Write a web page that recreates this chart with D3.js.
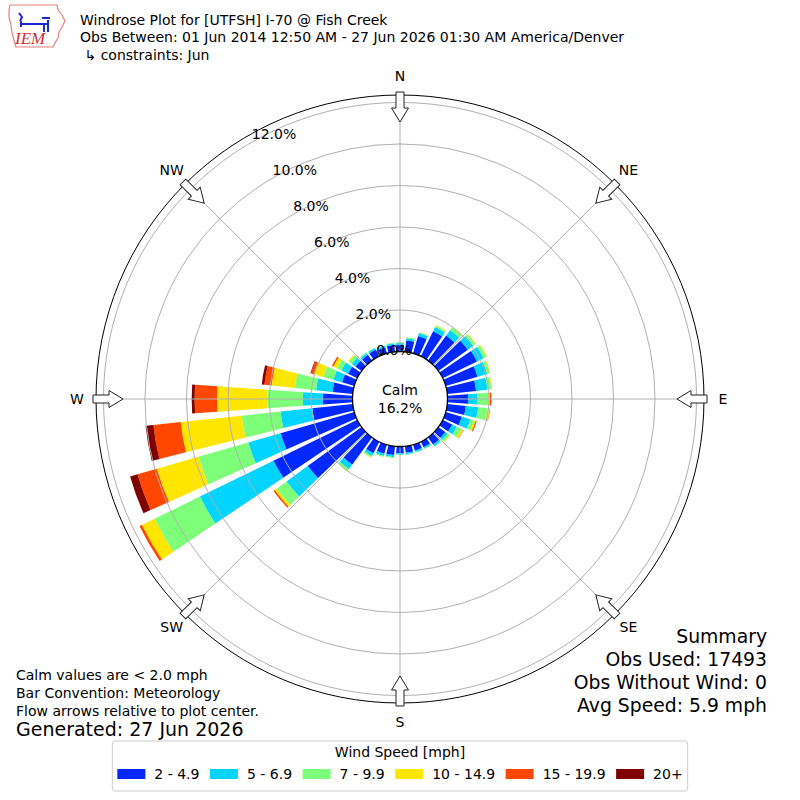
<!DOCTYPE html>
<html>
<head>
<meta charset="utf-8">
<script src="https://cdn.jsdelivr.net/npm/d3@7"></script>
<style>
  body { margin: 0; background: #fff; }
  svg text { font-family: "DejaVu Sans", sans-serif; fill: #000; }
</style>
</head>
<body>
<div id="chart"></div>
<script>
const directions = [0, 10, 20, 30, 40, 50, 60, 70, 80, 90, 100, 110, 120, 130, 140, 150, 160, 170,
                    180, 190, 200, 210, 220, 230, 240, 250, 260, 270, 280, 290, 300, 310, 320, 330, 340, 350];
const speedBins = ["2 - 4.9", "5 - 6.9", "7 - 9.9", "10 - 14.9", "15 - 19.9", "20+"];

const spd2to5   = [0.32, 0.55, 0.87, 1.35, 1.50, 1.75, 1.84, 1.60, 1.40, 1.00, 0.90, 0.81, 0.51, 0.41, 0.42, 0.30, 0.30, 0.32,
                   0.32, 0.43, 0.45, 0.62, 1.63, 3.21, 4.50, 3.70, 1.96, 1.43, 0.98, 0.62, 0.50, 0.36, 0.35, 0.36, 0.30, 0.33];
const spd5to7   = [0.09, 0.10, 0.15, 0.22, 0.32, 0.33, 0.36, 0.48, 0.55, 0.45, 0.60, 0.43, 0.25, 0.14, 0.10, 0.07, 0.07, 0.07,
                   0.07, 0.10, 0.12, 0.15, 0.27, 1.26, 3.94, 1.62, 1.54, 0.96, 0.80, 0.43, 0.35, 0.22, 0.10, 0.08, 0.08, 0.08];
const spd7to10  = [0.04, 0.05, 0.04, 0.08, 0.17, 0.13, 0.14, 0.14, 0.20, 0.52, 0.46, 0.18, 0.25, 0.12, 0.04, 0.03, 0.03, 0.03,
                   0.03, 0.05, 0.05, 0.07, 0.12, 0.59, 2.44, 2.50, 1.88, 1.72, 1.03, 0.51, 0.25, 0.17, 0.04, 0.03, 0.03, 0.03];
const spd10to15 = [0, 0, 0.01, 0.03, 0.03, 0.03, 0.04, 0.03, 0.03, 0.07, 0.10, 0.08, 0.09, 0.03, 0, 0, 0, 0,
                   0, 0, 0, 0.02, 0.02, 0.12, 0.67, 2.08, 2.96, 2.42, 1.12, 0.47, 0.18, 0.05, 0, 0, 0, 0];
const spd15to20 = [0, 0, 0, 0, 0, 0, 0, 0, 0, 0.08, 0.02, 0.06, 0.02, 0, 0, 0, 0, 0,
                   0, 0, 0, 0, 0, 0.07, 0.13, 0.97, 1.32, 1.08, 0.35, 0.14, 0.08, 0, 0, 0, 0, 0];
const spd20up   = [0, 0, 0, 0, 0, 0, 0, 0, 0, 0, 0, 0, 0, 0, 0, 0, 0, 0,
                   0, 0, 0, 0, 0, 0, 0, 0.37, 0.38, 0.14, 0.13, 0.03, 0, 0, 0, 0, 0, 0];

const ringTicks = [0, 2, 4, 6, 8, 10, 12];
const compassLabels = ["N", "NE", "E", "SE", "S", "SW", "W", "NW"];
const calmPct = 16.2;

const titleLines = [
    "Windrose Plot for [UTFSH] I-70 @ Fish Creek",
    "Obs Between: 01 Jun 2014 12:50 AM - 27 Jun 2026 01:30 AM America/Denver",
    " \u21b3 constraints: Jun"
];
const noteLines = ["Calm values are < 2.0 mph", "Bar Convention: Meteorology", "Flow arrows relative to plot center."];
const generatedText = "Generated: 27 Jun 2026";
const summaryLines = ["Summary", "Obs Used: 17493", "Obs Without Wind: 0", "Avg Speed: 5.9 mph"];

// jet colormap samples
const binColors = ["#0028ff", "#00d4ff", "#7dff7a", "#ffe600", "#ff4700", "#800000"];

// ---- layout ----
const width = 800, height = 800;
const cx = 400, cy = 399;
const rCalm = 47.5, rOuter = 304;
const rad = deg => deg * Math.PI / 180;

const svg = d3.select("#chart")
    .append("svg")
    .attr("width", width)
    .attr("height", height);

const color = d3.scaleOrdinal().domain(speedBins).range(binColors);
const r = d3.scaleLinear().domain([0, 12.36]).range([rCalm, rOuter]);

// stack the speed bins per direction
const speedSeries = [spd2to5, spd5to7, spd7to10, spd10to15, spd15to20, spd20up];
const table = directions.map((dir, i) => {
    const row = { dir };
    speedSeries.forEach((s, j) => { row[speedBins[j]] = s[i]; });
    return row;
});
const stacked = d3.stack().keys(speedBins)(table);

const plot = svg.append("g").attr("transform", `translate(${cx},${cy})`);

// bars (8 deg wide out of each 10 deg sector)
const half = rad(4);
const arc = d3.arc()
    .innerRadius(d => r(d[0]))
    .outerRadius(d => r(d[1]))
    .startAngle(d => rad(d.data.dir) - half)
    .endAngle(d => rad(d.data.dir) + half);

plot.selectAll("g.layer")
    .data(stacked)
    .join("g")
    .attr("class", "layer")
    .attr("fill", d => color(d.key))
    .selectAll("path")
    .data(d => d.filter(s => s[1] - s[0] > 0))
    .join("path")
    .attr("d", arc);

// grid on top of the bars
plot.selectAll("circle.ring")
    .data(ringTicks.filter(t => t > 0))
    .join("circle")
    .attr("class", "ring")
    .attr("r", d => r(d))
    .attr("fill", "none")
    .attr("stroke", "#b0b0b0")
    .attr("stroke-width", 1);

plot.selectAll("line.spoke")
    .data(d3.range(0, 360, 45))
    .join("line")
    .attr("class", "spoke")
    .attr("x1", d => r(0) * Math.sin(rad(d)))
    .attr("y1", d => -r(0) * Math.cos(rad(d)))
    .attr("x2", d => rOuter * Math.sin(rad(d)))
    .attr("y2", d => -rOuter * Math.cos(rad(d)))
    .attr("stroke", "#b0b0b0")
    .attr("stroke-width", 1);

// outer frame
plot.append("circle")
    .attr("r", rOuter)
    .attr("fill", "none")
    .attr("stroke", "#000")
    .attr("stroke-width", 1);

// calm circle
plot.append("circle")
    .attr("r", rCalm)
    .attr("fill", "#fff")
    .attr("stroke", "#000")
    .attr("stroke-width", 1.3);

plot.append("text")
    .attr("y", -4.5)
    .attr("text-anchor", "middle")
    .style("font-size", "14px")
    .text("Calm");
plot.append("text")
    .attr("y", 13.5)
    .attr("text-anchor", "middle")
    .style("font-size", "14px")
    .text(`${calmPct.toFixed(1)}%`);

// flow arrows pointing to the centre
const arrowPts = [[-4, -307], [4, -307], [4, -291], [8.5, -291], [0, -277], [-8.5, -291], [-4, -291]];
plot.selectAll("path.arrow")
    .data(compassLabels)
    .join("path")
    .attr("class", "arrow")
    .attr("d", d3.line()(arrowPts) + "Z")
    .attr("transform", (d, i) => `rotate(${i * 45})`)
    .attr("fill", "#fff")
    .attr("stroke", "#222")
    .attr("stroke-width", 1);

// compass labels
plot.selectAll("text.compass")
    .data(compassLabels)
    .join("text")
    .attr("class", "compass")
    .attr("x", (d, i) => 323 * Math.sin(rad(i * 45)))
    .attr("y", (d, i) => -323 * Math.cos(rad(i * 45)) + 4.5)
    .attr("text-anchor", "middle")
    .style("font-size", "14px")
    .text(d => d);

// radial tick labels along 30 deg west of north
plot.selectAll("text.rlabel")
    .data(ringTicks)
    .join("text")
    .attr("class", "rlabel")
    .attr("x", d => -r(d) * Math.sin(rad(30)))
    .attr("y", d => -r(d) * Math.cos(rad(30)) - 3.3)
    .style("font-size", "14px")
    .text(d => `${d.toFixed(1)}%`);

// ---- header ----
const logo = svg.append("g");
logo.append("path")
    .attr("d", "M10,5 L57,5 L58,10 L62,15 L65,21 L62,27 L59,32 L58,38 L55,43 L53,47 L16,47 L14,40 L12,33 L11,25 L9,17 L9,10 Z")
    .attr("fill", "none")
    .attr("stroke", "#e58080")
    .attr("stroke-width", 1.2);
logo.append("path")
    .attr("d", "M22,24 L48,24 M44,24 L44,32 M48,20 L48,32 M21,21 L21,27 M19,13 L22,17 L20,21 M42,18 L50,18")
    .attr("fill", "none")
    .attr("stroke", "#1a2ad0")
    .attr("stroke-width", 2);
logo.append("text")
    .attr("x", 15)
    .attr("y", 44)
    .style("font-family", "'Liberation Serif', serif")
    .style("font-style", "italic")
    .style("font-size", "17px")
    .style("fill", "#d03030")
    .text("IEM");

svg.selectAll("text.title")
    .data(titleLines)
    .join("text")
    .attr("class", "title")
    .attr("x", 80)
    .attr("y", (d, i) => 24.5 + i * 17.5)
    .attr("xml:space", "preserve")
    .style("white-space", "pre")
    .style("font-size", "14px")
    .text(d => d);

// ---- footnotes ----
svg.selectAll("text.note")
    .data(noteLines)
    .join("text")
    .attr("class", "note")
    .attr("x", 16)
    .attr("y", (d, i) => 680 + i * 18)
    .style("font-size", "14px")
    .text(d => d);

svg.append("text")
    .attr("x", 16)
    .attr("y", 736)
    .style("font-size", "19px")
    .text(generatedText);

svg.selectAll("text.summary")
    .data(summaryLines)
    .join("text")
    .attr("class", "summary")
    .attr("x", 767)
    .attr("y", (d, i) => 642.5 + i * 23.3)
    .attr("text-anchor", "end")
    .style("font-size", "18.8px")
    .text(d => d);

// ---- legend ----
const legend = svg.append("g");
const legendBox = legend.append("rect")
    .attr("y", 741)
    .attr("height", 50)
    .attr("rx", 3)
    .attr("fill", "#fff")
    .attr("stroke", "#cccccc")
    .attr("stroke-width", 1);

legend.append("text")
    .attr("x", 400)
    .attr("y", 757)
    .attr("text-anchor", "middle")
    .style("font-size", "14px")
    .text("Wind Speed [mph]");

const items = legend.selectAll("g.item")
    .data(speedBins)
    .join("g")
    .attr("class", "item");
items.append("rect")
    .attr("y", 769)
    .attr("width", 28)
    .attr("height", 10)
    .attr("fill", d => color(d));
items.append("text")
    .attr("y", 779)
    .style("font-size", "14px")
    .text(d => d);

// lay the legend entries out side by side, centred on the plot
let offsets = [], total = 0;
items.select("text").each(function (d, i) {
    const w = this.getComputedTextLength();
    offsets.push(total);
    total += 28 + 9 + w + (i < speedBins.length - 1 ? 10.5 : 0);
});
const x0 = 400 - total / 2;
items.attr("transform", (d, i) => `translate(${x0 + offsets[i]},0)`);
items.select("text").attr("x", 37);
legendBox.attr("x", x0 - 5).attr("width", total + 10);
</script>
</body>
</html>
